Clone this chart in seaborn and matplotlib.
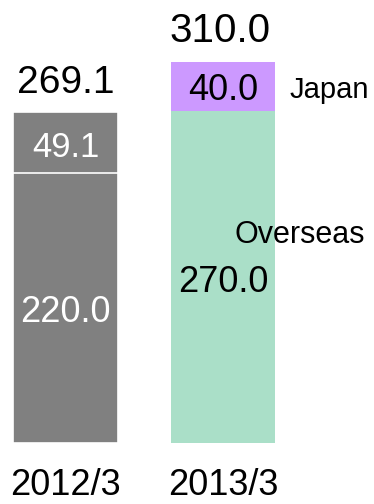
import matplotlib
matplotlib.use("Agg")
import matplotlib.pyplot as plt
import seaborn as sns

# data
periods = ["2012/3", "2013/3"]
japan = [49.1, 40.0]
overseas = [220.0, 270.0]
totals = [269.1, 310.0]

sns.set_style("white")
plt.rcParams['font.family'] = ['Liberation Sans', 'DejaVu Sans']
plt.rcParams['text.color'] = 'black'

fig = plt.figure(figsize=(3.74, 5.04), dpi=100)
ax = fig.add_axes([0, 0, 1, 1])

# top segment drawn as full-height bar, bottom segment over it
sns.barplot(x=periods, y=totals, hue=periods, palette=["#808080", "#CC99FF"],
            legend=False, width=0.665, saturation=1, edgecolor="white",
            linewidth=1.2, ax=ax)
sns.barplot(x=periods, y=overseas, hue=periods, palette=["#808080", "#AADFC8"],
            legend=False, width=0.665, saturation=1, edgecolor="white",
            linewidth=1.2, ax=ax)

# only the 2012/3 bar shows a separator line
for patch in ax.patches:
    if patch.get_x() + patch.get_width() / 2 > 0.5:
        patch.set_linewidth(0)

ax.set_xlim(-0.416, 1.959)
ax.set_ylim(-49.6, 360.5)
ax.axis("off")

# totals above bars
ax.text(0, 284.5, f"{totals[0]:.1f}", ha="center", va="baseline", fontsize=28)
ax.text(0.98, 326.5, f"{totals[1]:.1f}", ha="center", va="baseline", fontsize=29)

# segment values
ax.text(0, 233, f"{japan[0]:.1f}", ha="center", va="baseline", fontsize=25, color="white")
ax.text(0, 98.7, f"{overseas[0]:.1f}", ha="center", va="baseline", fontsize=26, color="white")
ax.text(1, 279, f"{japan[1]:.1f}", ha="center", va="baseline", fontsize=26)
ax.text(1, 123, f"{overseas[1]:.1f}", ha="center", va="baseline", fontsize=26)

# series names
ax.text(1.425, 280.7, "Japan", ha="left", va="baseline", fontsize=21)
ax.text(1.076, 162.5, "Overseas", ha="left", va="baseline", fontsize=22)

# period labels
for i, p in enumerate(periods):
    ax.text(i, -42, p, ha="center", va="baseline", fontsize=26)

fig.savefig("out.png", dpi=100)
